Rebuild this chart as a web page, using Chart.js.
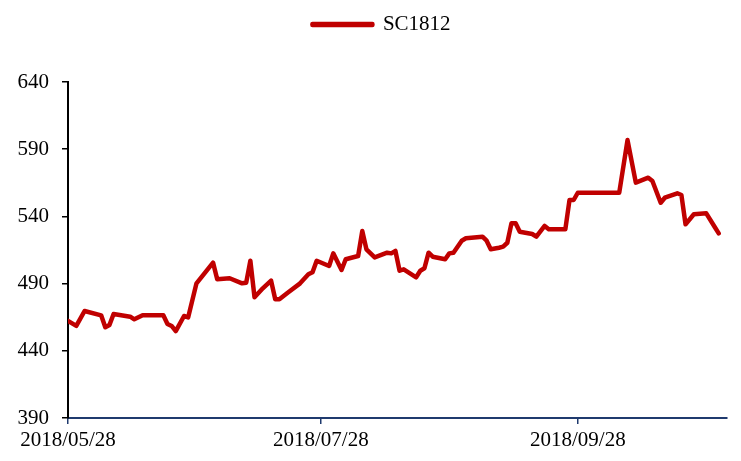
<!DOCTYPE html>
<html>
<head>
<meta charset="utf-8">
<script src="https://cdn.jsdelivr.net/npm/chart.js@4/dist/chart.umd.min.js"></script>
<style>
  html, body { margin: 0; padding: 0; background: #fff; }
  #wrap { width: 741px; height: 461px; }
</style>
</head>
<body>
<div id="wrap"><canvas id="chart" width="741" height="461"></canvas></div>
<script>
// SC1812 settle prices
const dates = [
  "2018/05/28", "2018/05/30", "2018/06/01", "2018/06/05", "2018/06/06", "2018/06/07",
  "2018/06/08", "2018/06/12", "2018/06/13", "2018/06/15", "2018/06/20", "2018/06/21",
  "2018/06/22", "2018/06/23", "2018/06/25", "2018/06/26", "2018/06/28", "2018/07/02",
  "2018/07/03", "2018/07/06", "2018/07/09", "2018/07/10", "2018/07/11", "2018/07/12",
  "2018/07/14", "2018/07/16", "2018/07/17", "2018/07/18", "2018/07/20", "2018/07/23",
  "2018/07/25", "2018/07/26", "2018/07/27", "2018/07/30", "2018/07/31", "2018/08/02",
  "2018/08/03", "2018/08/06", "2018/08/07", "2018/08/08", "2018/08/10", "2018/08/13",
  "2018/08/14", "2018/08/15", "2018/08/16", "2018/08/17", "2018/08/20", "2018/08/21",
  "2018/08/22", "2018/08/23", "2018/08/24", "2018/08/27", "2018/08/28", "2018/08/29",
  "2018/08/31", "2018/09/01", "2018/09/05", "2018/09/06", "2018/09/07", "2018/09/09",
  "2018/09/10", "2018/09/11", "2018/09/12", "2018/09/13", "2018/09/14", "2018/09/17",
  "2018/09/18", "2018/09/20", "2018/09/21", "2018/09/25", "2018/09/26", "2018/09/27",
  "2018/09/28", "2018/10/08", "2018/10/10", "2018/10/12", "2018/10/15", "2018/10/16",
  "2018/10/18", "2018/10/19", "2018/10/22", "2018/10/23", "2018/10/24", "2018/10/26",
  "2018/10/29", "2018/10/31", "2018/11/01"
];
const sc1812 = [
  462.2, 458.5, 469.6, 466.4, 457.5, 459.2,
  467.4, 465.4, 463.4, 466.4, 466.4, 460.0,
  458.5, 454.7, 465.9, 464.9, 490.2, 505.6,
  493.2, 494.0, 490.2, 490.7, 507.0, 479.8,
  486.5, 492.2, 478.3, 478.3, 483.2, 490.2,
  496.9, 498.4, 507.0, 503.1, 512.5, 500.1,
  508.1, 510.5, 529.1, 515.5, 509.5, 513.0,
  512.5, 514.3, 499.6, 500.6, 494.7, 499.6,
  501.4, 513.0, 510.0, 508.1, 512.5, 513.0,
  521.9, 523.7, 524.9, 521.9, 515.5, 516.7,
  517.5, 520.4, 534.9, 534.9, 528.6, 526.9,
  524.9, 532.9, 530.4, 530.4, 552.2, 552.2,
  557.6, 557.6, 596.8, 565.1, 568.8, 566.3,
  550.2, 553.9, 557.2, 555.9, 534.1, 541.6,
  542.3, 532.3, 527.4
];
const xTickLabels = ["2018/05/28", "2018/07/28", "2018/09/28"];
const xEnd = "2018/11/03";
const yMin = 390, yMax = 640, yStep = 50;

const startDate = dates[0];
function dayOf(s) {
  const p = s.split("/").map(Number);
  const q = startDate.split("/").map(Number);
  return Math.round((Date.UTC(p[0], p[1] - 1, p[2]) - Date.UTC(q[0], q[1] - 1, q[2])) / 86400000);
}

const red = "#C00000";
const navy = "#1F3A6E";
const font = { family: "'Liberation Serif', 'Times New Roman', serif", size: 21 };

// extra room under the legend, and nudge it right like the original
const legendTweak = {
  id: "legendTweak",
  afterInit(chart) {
    const fit = chart.legend.fit;
    chart.legend.fit = function () {
      fit.call(this);
      this.height += 37;
    };
  },
  afterLayout(chart) {
    chart.legend.left += 18;
    chart.legend.right += 18;
  },
};

new Chart(document.getElementById("chart").getContext("2d"), {
  type: "line",
  data: {
    datasets: [
      {
        label: "SC1812",
        data: dates.map((d, i) => ({ x: dayOf(d), y: sc1812[i] })),
        borderColor: red,
        backgroundColor: red,
        borderWidth: 4.5,
        pointRadius: 0,
        tension: 0,
        borderJoinStyle: "round",
        borderCapStyle: "round",
      },
    ],
  },
  options: {
    responsive: false,
    animation: false,
    layout: { padding: { top: 0, right: 14, left: 0, bottom: 0 } },
    plugins: {
      tooltip: { enabled: false },
      legend: {
        position: "top",
        labels: {
          font: font,
          color: "#000",
          boxWidth: 60,
          boxHeight: 1,
          padding: 14,
        },
      },
    },
    scales: {
      x: {
        type: "linear",
        min: 0,
        max: dayOf(xEnd),
        afterBuildTicks: (scale) => {
          scale.ticks = xTickLabels.map((t) => ({ value: dayOf(t) }));
        },
        afterFit: (scale) => { scale.height = 43; },
        ticks: {
          autoSkip: false,
          maxRotation: 0,
          font: font,
          color: "#000",
          padding: 4,
          callback: (v) => xTickLabels.find((t) => dayOf(t) === v) || "",
        },
        grid: { drawOnChartArea: false, drawTicks: true, tickLength: 6, color: navy, lineWidth: 1.5 },
        border: { display: true, color: navy, width: 2 },
      },
      y: {
        min: yMin,
        max: yMax,
        afterFit: (scale) => { scale.width = 68; },
        ticks: { stepSize: yStep, font: font, color: "#000", padding: 13 },
        grid: { drawOnChartArea: false, drawTicks: true, tickLength: 6, color: "#000", lineWidth: 1.5 },
        border: { display: true, color: "#000", width: 2 },
      },
    },
  },
  plugins: [legendTweak],
});
</script>
</body>
</html>
